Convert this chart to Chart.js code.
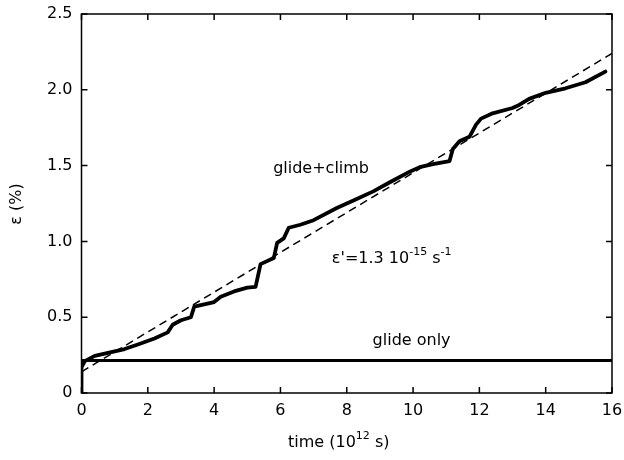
<!DOCTYPE html>
<html lang="en">
<head>
    <meta charset="UTF-8">
    <title>Strain vs time</title>
    <script src="https://cdn.jsdelivr.net/npm/chart.js"></script>
    <style>
        html, body { margin: 0; padding: 0; background: #fff; }
        #wrap { width: 624px; height: 460px; }
    </style>
</head>
<body>
    <div id="wrap"><canvas id="strainChart" width="624" height="460"></canvas></div>

    <script>
        // glide+climb curve (time in 10^12 s, strain in %)
        const climbTime = [0, 0, 0.1, 0.4, 0.9, 1.3, 1.7, 2.2, 2.6, 2.75, 3.0, 3.3, 3.4, 4.0, 4.2, 4.6, 5.0, 5.25, 5.4, 5.8, 5.9, 6.1, 6.25, 6.6, 7.0, 7.7, 8.3, 8.8, 9.3, 9.9, 10.2, 10.6, 11.1, 11.2, 11.4, 11.7, 11.9, 12.05, 12.4, 13.0, 13.2, 13.5, 14.0, 14.6, 15.2, 15.8];
        const climbStrain = [0, 0.17, 0.21, 0.245, 0.27, 0.29, 0.32, 0.36, 0.40, 0.45, 0.48, 0.50, 0.57, 0.60, 0.635, 0.67, 0.695, 0.70, 0.85, 0.89, 0.99, 1.02, 1.09, 1.11, 1.14, 1.22, 1.28, 1.33, 1.39, 1.46, 1.49, 1.51, 1.53, 1.61, 1.66, 1.69, 1.77, 1.81, 1.845, 1.88, 1.90, 1.94, 1.98, 2.01, 2.05, 2.12];

        // glide only curve
        const glideTime = [0, 0, 16];
        const glideStrain = [0, 0.215, 0.215];

        // fitted constant rate line
        const fitTime = [0, 16];
        const fitStrain = [0.14, 2.24];

        const xTicks = [0, 2, 4, 6, 8, 10, 12, 14, 16];
        const yTicks = [0, 0.5, 1.0, 1.5, 2.0, 2.5];

        function pts(xs, ys) {
            return xs.map((x, i) => ({ x: x, y: ys[i] }));
        }

        const FONT = "'DejaVu Sans', sans-serif";

        // draws text with superscript parts: parts = [[text, isSup], ...]
        function drawRich(ctx, parts, x, y) {
            let cx = x;
            parts.forEach(p => {
                ctx.font = (p[1] ? "11px " : "16px ") + FONT;
                ctx.fillText(p[0], cx, p[1] ? y - 8 : y);
                cx += ctx.measureText(p[0]).width;
            });
        }

        const framePlugin = {
            id: 'frame',
            afterDraw(chart) {
                const ctx = chart.ctx;
                const a = chart.chartArea;
                const xs = chart.scales.x, ys = chart.scales.y;
                ctx.save();
                ctx.strokeStyle = '#000';
                ctx.lineWidth = 1.5;
                ctx.strokeRect(a.left, a.top, a.right - a.left, a.bottom - a.top);
                ctx.beginPath();
                xTicks.forEach(v => {
                    const px = xs.getPixelForValue(v);
                    ctx.moveTo(px, a.bottom); ctx.lineTo(px, a.bottom - 6);
                    ctx.moveTo(px, a.top); ctx.lineTo(px, a.top + 6);
                });
                yTicks.forEach(v => {
                    const py = ys.getPixelForValue(v);
                    ctx.moveTo(a.left, py); ctx.lineTo(a.left + 6, py);
                    ctx.moveTo(a.right, py); ctx.lineTo(a.right - 6, py);
                });
                ctx.stroke();

                // annotations
                ctx.fillStyle = '#000';
                ctx.textBaseline = 'alphabetic';
                ctx.textAlign = 'left';
                drawRich(ctx, [['glide+climb', false]], xs.getPixelForValue(5.78), ys.getPixelForValue(1.45));
                drawRich(ctx, [["\u03b5'=1.3 10", false], ['-15', true], [' s', false], ['-1', true]],
                    xs.getPixelForValue(7.55), ys.getPixelForValue(0.855));
                drawRich(ctx, [['glide only', false]], xs.getPixelForValue(8.78), ys.getPixelForValue(0.317));

                // axis titles
                drawRich(ctx, [['time (10', false], ['12', true], [' s)', false]], 288, 447);
                ctx.translate(21, 204);
                ctx.rotate(-Math.PI / 2);
                ctx.textAlign = 'center';
                ctx.font = "16px " + FONT;
                ctx.fillText('\u03b5 (%)', 0, 0);
                ctx.restore();
            }
        };

        Chart.defaults.font.family = FONT;
        Chart.defaults.font.size = 16;
        Chart.defaults.color = '#000';

        new Chart(document.getElementById('strainChart').getContext('2d'), {
            type: 'line',
            data: {
                datasets: [
                    {
                        label: 'fit',
                        data: pts(fitTime, fitStrain),
                        borderColor: '#000',
                        borderWidth: 1.5,
                        borderDash: [8, 5],
                        pointRadius: 0
                    },
                    {
                        label: 'glide only',
                        data: pts(glideTime, glideStrain),
                        borderColor: '#000',
                        borderWidth: 3,
                        pointRadius: 0
                    },
                    {
                        label: 'glide+climb',
                        data: pts(climbTime, climbStrain),
                        borderColor: '#000',
                        borderWidth: 3.8,
                        borderJoinStyle: 'round',
                        borderCapStyle: 'round',
                        pointRadius: 0
                    }
                ]
            },
            options: {
                responsive: false,
                animation: false,
                layout: { padding: { left: 0, right: 12, top: 14, bottom: 0 } },
                plugins: { legend: { display: false }, tooltip: { enabled: false } },
                scales: {
                    x: {
                        type: 'linear',
                        min: 0, max: 16,
                        afterFit: s => { s.height = 67; s.paddingLeft = 0; s.paddingRight = 0; },
                        afterBuildTicks: s => { s.ticks = xTicks.map(v => ({ value: v })); },
                        grid: { display: false, drawTicks: false },
                        border: { display: false },
                        ticks: { padding: 8, maxRotation: 0, callback: v => String(v) }
                    },
                    y: {
                        min: 0, max: 2.5,
                        afterFit: s => { s.width = 81.5; s.paddingTop = 0; s.paddingBottom = 0; },
                        afterBuildTicks: s => { s.ticks = yTicks.map(v => ({ value: v })); },
                        grid: { display: false, drawTicks: false },
                        border: { display: false },
                        ticks: { padding: 9, callback: v => v === 0 ? '0' : v.toFixed(1) }
                    }
                }
            },
            plugins: [framePlugin]
        });
    </script>
</body>
</html>
